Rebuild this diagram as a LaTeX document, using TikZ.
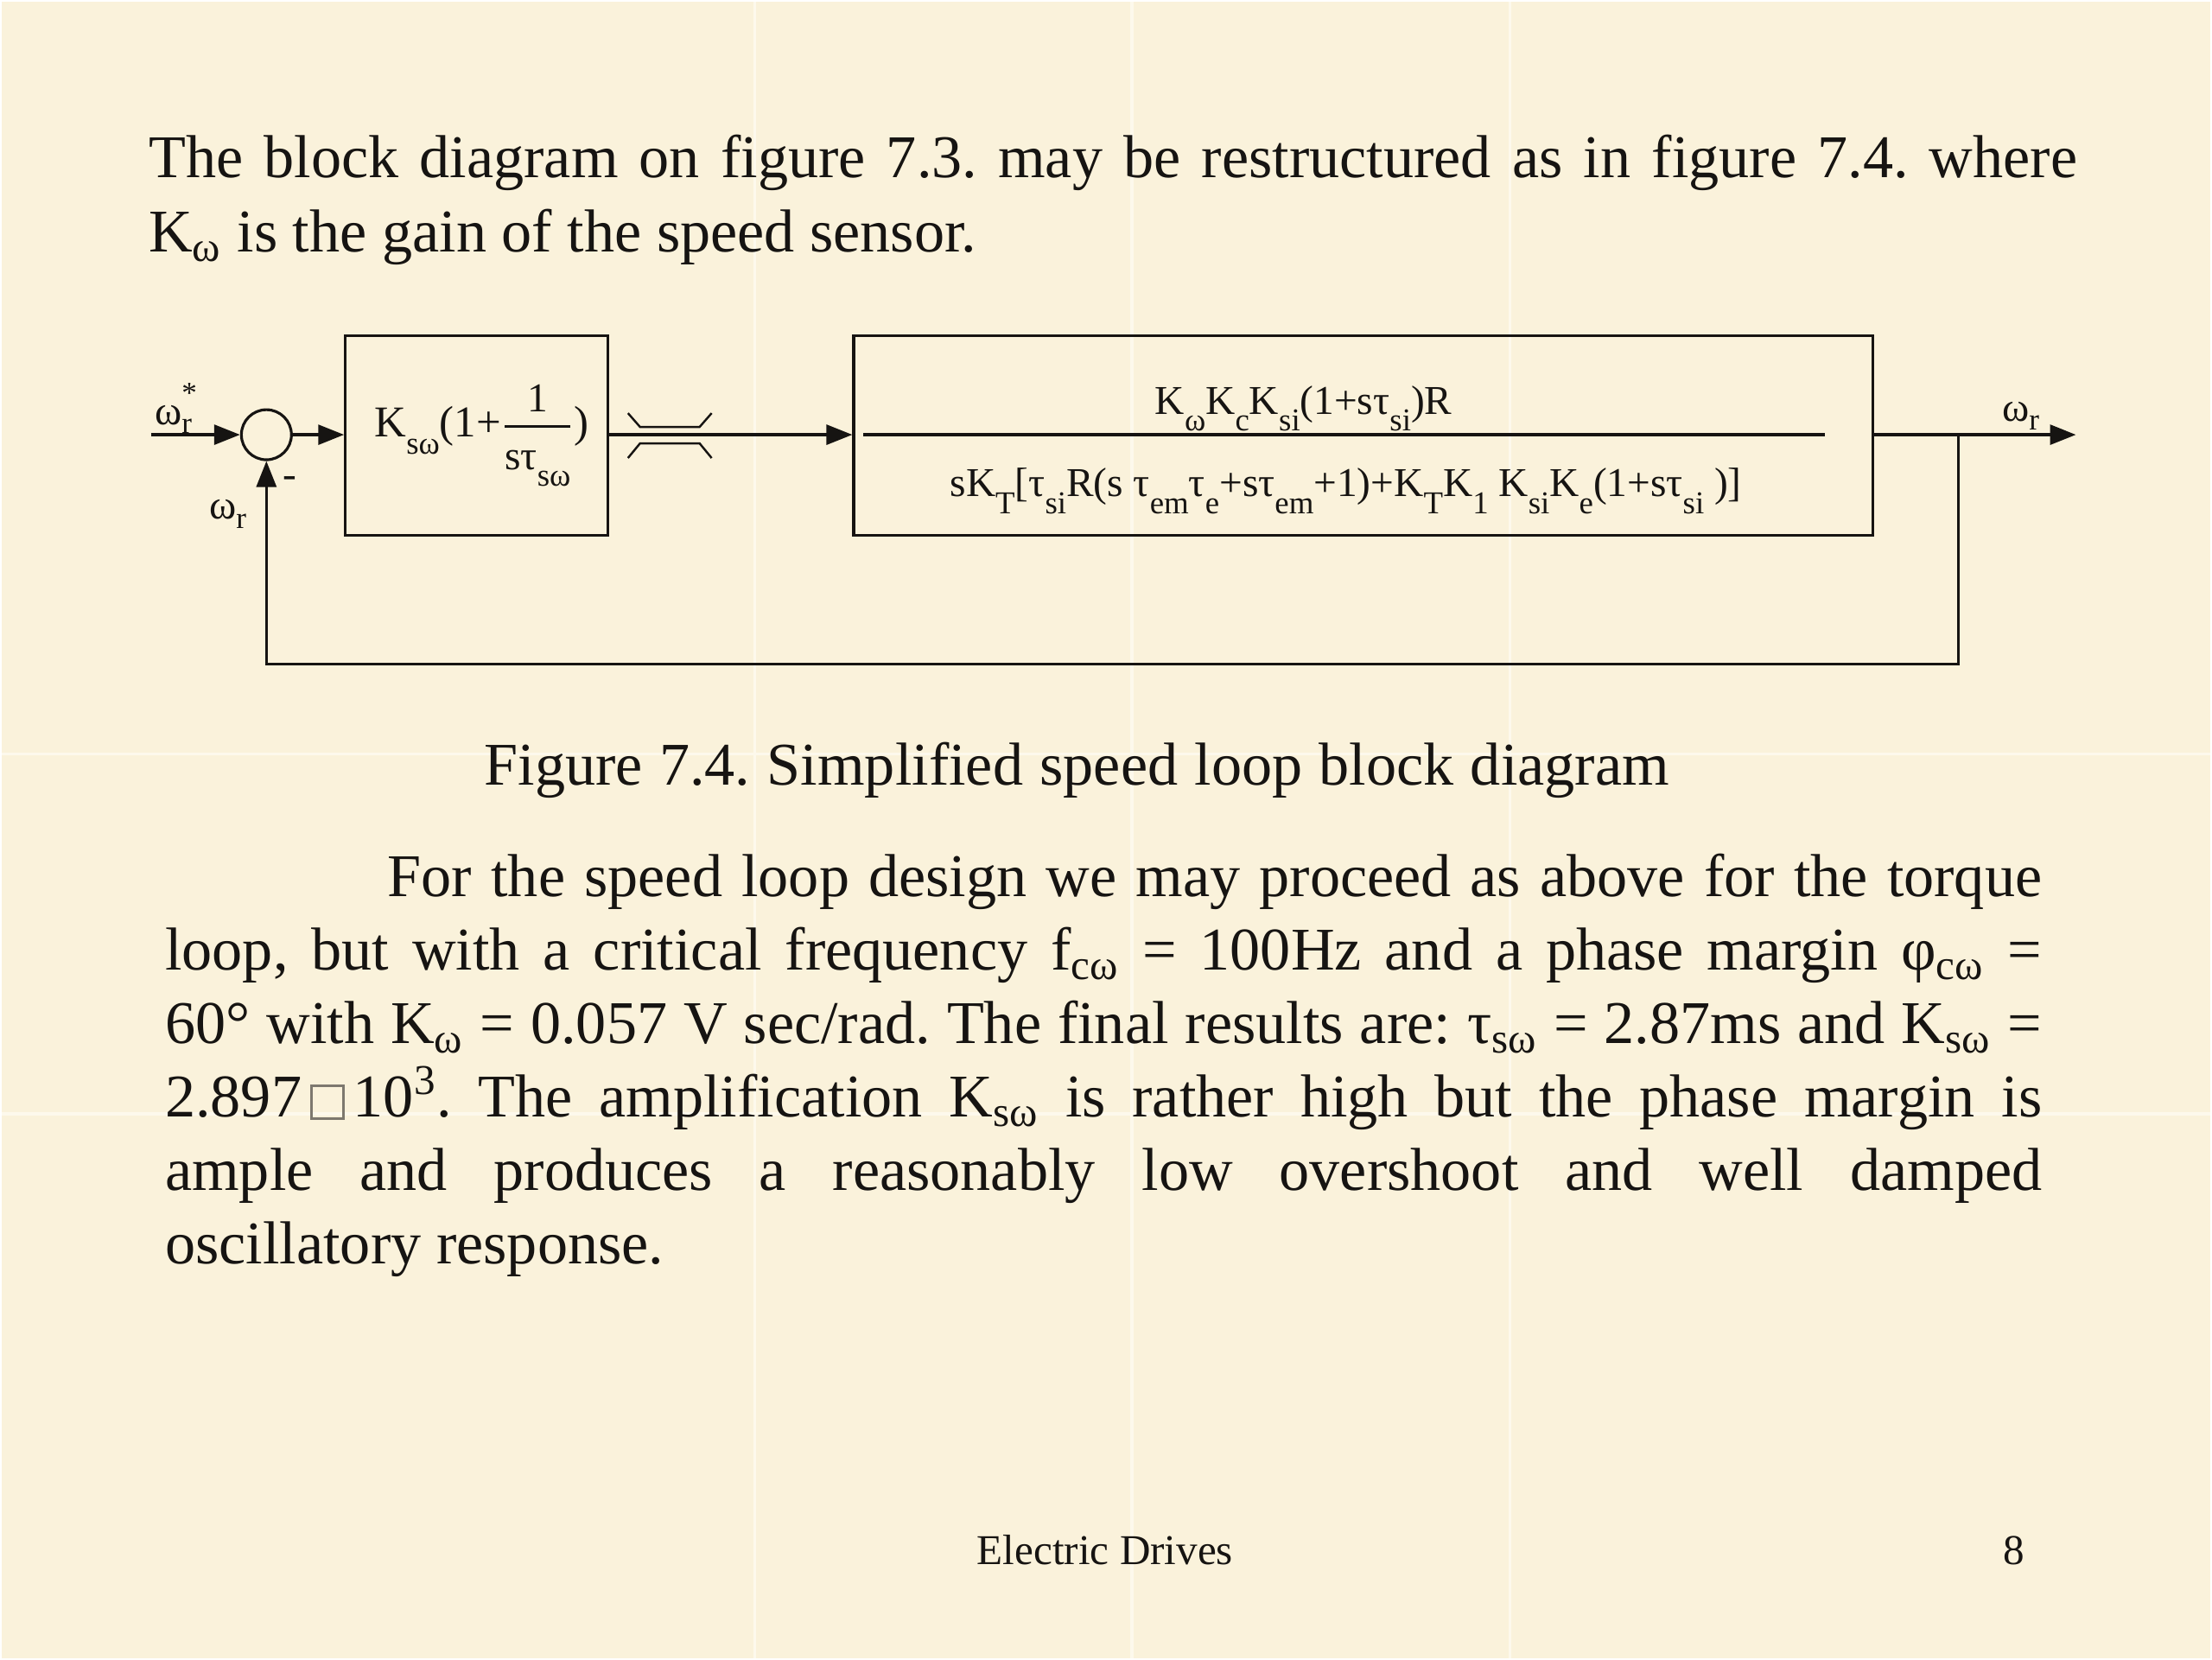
\documentclass[tikz,border=0pt]{standalone}
\usepackage{fontspec}
\setmainfont{Liberation Serif}
\usepackage{xcolor}
\usepackage{tikz}
\usetikzlibrary{positioning,arrows.meta}
\definecolor{parchment}{RGB}{250,242,219}
\definecolor{seam}{RGB}{253,249,236}
\definecolor{ink}{RGB}{22,20,18}
\definecolor{boxgray}{RGB}{125,120,110}
\newcommand{\bodysize}{\fontsize{20}{24}\selectfont}
\newcommand{\labelsize}{\fontsize{13.5}{15}\selectfont}
\newcommand{\dsub}[1]{\raisebox{-5.5pt}{\fontsize{10.5}{11}\selectfont #1}}
\newcommand{\gainfrac}[2]{\ensuremath{{\hbox{\fontsize{13.5}{14}\selectfont\rule[-3.5pt]{0pt}{0pt}#1}\above0.8pt
  \hbox{\fontsize{13.5}{14}\selectfont\rule{0pt}{13pt}#2}}}}
\newcommand{\glyphbox}{\makebox[0.85em]{\textcolor{boxgray}{\fboxsep=0pt\fboxrule=0.9pt\fbox{\rule{0pt}{0.5em}\hspace{0.48em}}}}}

\begin{document}
\frenchspacing
\begin{tikzpicture}[x=1cm, y=1cm,
  bodyline/.style={anchor=base west, inner sep=0pt, font=\bodysize, text=ink},
  block/.style={draw=ink, line width=0.9pt, inner sep=0pt, anchor=north west,
    font=\fontsize{14.5}{16}\selectfont, text=ink},
  summer/.style={circle, draw=ink, line width=0.9pt, minimum size=0.58cm, inner sep=0pt},
  signal/.style={-{Triangle[length=3mm,width=2.3mm]}, line width=0.9pt, draw=ink},
  wire/.style={line width=0.9pt, draw=ink},
  siglabel/.style={anchor=base west, inner sep=0pt, font=\labelsize, text=ink}
]
\fill[parchment] (0,0) rectangle (25.6,-19.2);
\foreach \sx in {8.73,13.10,17.48}
  \draw[seam, line width=1pt] (\sx,0) -- (\sx,-19.2);
\foreach \sy in {8.72,12.89}
  \draw[seam, line width=1pt] (0,-\sy) -- (25.6,-\sy);

\node[bodyline] (intro1) at (1.70,-2.04)
  {\makebox[22.35cm][s]{The block diagram on figure 7.3. may be restructured as in figure 7.4. where}};
\node[bodyline] (intro2) at (1.70,-2.90) {K\textsubscript{ω} is the gain of the speed sensor.};

\coordinate (ref) at (1.73,-5.02);
\node[summer] (sum) at (3.07,-5.02) {};
\node[block, minimum width=3.04cm, minimum height=2.31cm] (pi) at (3.97,-3.86)
  {\hspace{0.12cm}K\dsub{sω}(1+\gainfrac{1}{sτ\dsub{sω}})};
\node[block, minimum width=11.81cm, minimum height=2.31cm] (plant) at (9.86,-3.86) {};
\node[anchor=base, inner sep=0pt, font=\labelsize, text=ink] (num) at (15.09,-4.78)
  {K\dsub{ω}K\dsub{c}K\dsub{si}(1+sτ\dsub{si})R};
\node[anchor=base, inner sep=0pt, font=\labelsize, text=ink] (den) at (15.58,-5.74)
  {sK\dsub{T}[τ\dsub{si}R(s τ\dsub{em}τ\dsub{e}+sτ\dsub{em}+1)+K\dsub{T}K\dsub{1} K\dsub{si}K\dsub{e}(1+sτ\dsub{si} )]};
\draw[wire] (9.99,-5.02) -- (21.13,-5.02);
\coordinate (brk) at (7.745,-5.02);
\coordinate (branch) at (22.68,-5.02);
\coordinate (turn) at (22.68,-7.68);
\coordinate (out) at (24.04,-5.02);

\node[siglabel] (refname) at (1.77,-4.90) {ω\rlap{\raisebox{7pt}{\fontsize{10}{10}\selectfont *}}\raisebox{-3pt}{\fontsize{10}{10}\selectfont r}};
\node[siglabel] (outname) at (23.18,-4.86) {ω\raisebox{-3pt}{\fontsize{10}{10}\selectfont r}};
\node[siglabel] (fbname) at (2.40,-6.00) {ω\raisebox{-3pt}{\fontsize{10}{10}\selectfont r}};
\node[inner sep=0pt, font=\labelsize, text=ink] (minus) at ([shift={(0.27,-0.24)}]sum.south) {-};

\draw[signal] (ref) -- (sum);
\draw[signal] (sum) -- (sum -| pi.west);
\draw[signal] (sum -| pi.east) -- (sum -| plant.west);
\draw[signal] (sum -| plant.east) -- (out);
\draw[signal] (branch) -- (turn) -| (sum.south);
\draw[wire, line width=0.7pt, shift={(brk)}] (-0.485,0.25) -- (-0.345,0.09) -- (0.345,0.09) -- (0.485,0.25);
\draw[wire, line width=0.7pt, shift={(brk)}] (-0.485,-0.27) -- (-0.345,-0.10) -- (0.345,-0.10) -- (0.485,-0.27);

\node[bodyline] (caption) at (5.59,-9.08)
  {\makebox[13.73cm][s]{Figure 7.4. Simplified speed loop block diagram}};

\node[bodyline] (para1) at (4.47,-10.37)
  {\makebox[19.17cm][s]{For the speed loop design we may proceed as above for the torque}};
\node[bodyline] (para2) at (1.89,-11.22)
  {\makebox[21.75cm][s]{loop, but with a critical frequency f\textsubscript{cω} = 100Hz and a phase margin φ\textsubscript{cω} =}};
\node[bodyline] (para3) at (1.89,-12.07)
  {\makebox[21.75cm][s]{60° with K\textsubscript{ω} = 0.057 V sec/rad. The final results are: τ\textsubscript{sω} = 2.87ms and K\textsubscript{sω} =}};
\node[bodyline] (para4) at (1.89,-12.93)
  {\makebox[21.75cm][s]{2.897\glyphbox10\textsuperscript{3}. The amplification K\textsubscript{sω} is rather high but the phase margin is}};
\node[bodyline] (para5) at (1.89,-13.78)
  {\makebox[21.75cm][s]{ample and produces a reasonably low overshoot and well damped}};
\node[bodyline] (para6) at (1.89,-14.63) {oscillatory response.};

\node[anchor=base west, inner sep=0pt, font=\fontsize{14}{17}\selectfont, text=ink] (footer) at (11.30,-18.11) {Electric Drives};
\node[anchor=base west, inner sep=0pt, font=\fontsize{14}{17}\selectfont, text=ink] (pageno) at (23.19,-18.11) {8};
\end{tikzpicture}
\end{document}
